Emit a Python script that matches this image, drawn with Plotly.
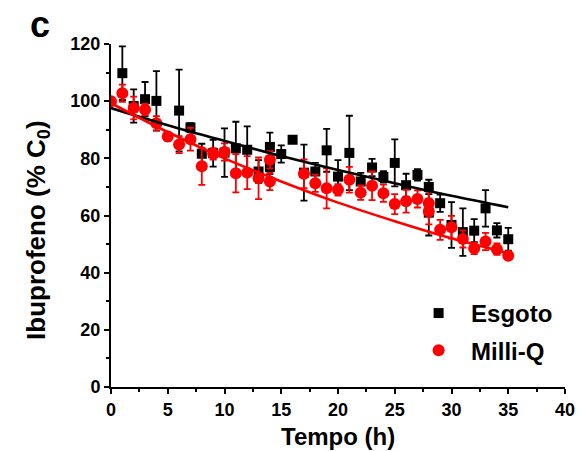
import plotly.graph_objects as go

# Esgoto (wastewater) series: time (h), % of initial concentration, std. dev.
esgoto_t = [1, 2, 3, 4, 6, 7, 8, 9, 10, 11, 12, 13, 14, 14, 15, 16, 17, 18, 19, 20,
            21, 22, 23, 24, 25, 26, 27, 28, 28, 29, 30, 31, 32, 33, 34, 35]
esgoto = [109.8, 98.3, 100.7, 100.1, 96.7, 90.8, 81.6, 81.8, 82.0, 83.5, 83.0, 75.4,
          84.0, 77.0, 81.5, 86.5, 75.0, 75.4, 82.8, 73.6, 81.9, 71.9, 76.8, 73.5,
          78.4, 70.6, 74.2, 70.0, 61.0, 64.3, 56.7, 54.2, 54.7, 62.5, 54.8, 51.7]
esgoto_err = [9.4, 5.8, 6.0, 10.4, 14.3, 1.5, 3.5, 4.7, 8.5, 9.3, 8.2, 4.0,
              5.0, 2.5, 3.0, 0.0, 9.8, 3.0, 7.5, 5.8, 13.0, 3.0, 3.0, 2.0,
              8.2, 4.0, 2.0, 2.5, 8.0, 3.0, 8.0, 8.3, 4.0, 6.4, 2.5, 4.0]

# Milli-Q water series
milliq_t = [0, 1, 2, 3, 4, 5, 6, 7, 8, 9, 10, 11, 12, 13, 14, 14, 17, 18, 19, 20,
            21, 22, 23, 24, 25, 26, 27, 28, 28, 29, 30, 31, 32, 33, 34, 35]
milliq = [100.0, 102.8, 97.6, 97.0, 92.3, 87.6, 84.8, 86.7, 77.2, 81.6, 82.2, 74.8,
          75.0, 73.0, 79.5, 71.9, 74.6, 71.3, 69.5, 69.0, 72.5, 68.0, 70.4, 67.8,
          64.0, 65.0, 65.8, 64.3, 61.4, 55.0, 55.9, 51.8, 48.5, 50.9, 48.2, 45.9]
milliq_err = [0.0, 3.0, 4.0, 2.0, 2.5, 1.5, 3.0, 4.0, 6.5, 2.0, 3.0, 6.7,
              5.8, 7.3, 3.0, 3.0, 5.0, 3.0, 7.0, 2.0, 4.5, 2.5, 5.0, 3.0,
              3.5, 4.0, 3.0, 4.0, 4.5, 3.5, 4.0, 3.0, 2.0, 3.0, 2.0, 1.0]

# Decay fit curves
fit_t = [0, 5, 10, 15, 20, 25, 30, 35]
esgoto_fit = [97.6, 91.6, 86.1, 80.8, 75.9, 71.3, 66.9, 62.9]
milliq_fit = [99.3, 89.2, 80.0, 71.9, 64.5, 58.0, 52.0, 46.8]

FONT = "Arial, Liberation Sans, sans-serif"
RED = "#ff0000"

fig = go.Figure()

fig.add_trace(go.Scatter(
    x=esgoto_t, y=esgoto, mode="markers", name="Esgoto", legendgroup="a",
    marker=dict(symbol="square", size=10, color="black"),
    error_y=dict(type="data", array=esgoto_err, color="black", thickness=1.8, width=3.5),
))
fig.add_trace(go.Scatter(
    x=milliq_t, y=milliq, mode="markers", name="Milli-Q", legendgroup="b",
    marker=dict(symbol="circle", size=12, color=RED),
    error_y=dict(type="data", array=milliq_err, color=RED, thickness=1.8, width=3.5),
))
fig.add_trace(go.Scatter(
    x=fit_t, y=esgoto_fit, mode="lines", showlegend=False,
    line=dict(color="black", width=2.6, shape="spline"),
))
fig.add_trace(go.Scatter(
    x=fit_t, y=milliq_fit, mode="lines", showlegend=False,
    line=dict(color=RED, width=2.6, shape="spline"),
))

axis_common = dict(
    showline=True, linewidth=2, linecolor="black", mirror=False,
    showgrid=False, zeroline=False,
    ticks="outside", ticklen=5, tickwidth=2, tickcolor="black",
    tickfont=dict(family=FONT, size=18, color="black", weight="bold"),
)

plot_w = 587 - 111 - 16
plot_h = 451 - 44 - 64

fig.update_layout(
    width=587, height=451,
    margin=dict(l=111, r=16, t=44, b=64),
    paper_bgcolor="white", plot_bgcolor="white",
    xaxis=dict(
        range=[0, 40], tick0=0, dtick=5,
        minor=dict(dtick=2.5, ticks="outside", ticklen=3, tickwidth=1.5, tickcolor="black"),
        **axis_common,
    ),
    yaxis=dict(
        range=[0, 120], tick0=0, dtick=20,
        minor=dict(dtick=10, ticks="outside", ticklen=3, tickwidth=1.5, tickcolor="black"),
        **axis_common,
    ),
    legend=dict(
        x=0.65, y=0.28, xanchor="left", yanchor="top",
        bgcolor="rgba(0,0,0,0)", tracegroupgap=3, itemwidth=55,
        font=dict(family=FONT, size=24, color="black", weight="bold"),
    ),
    annotations=[
        # panel letter
        dict(text="c", x=(39 - 111) / plot_w, y=(387 - 24) / plot_h,
             xref="paper", yref="paper",
             xanchor="center", yanchor="middle", showarrow=False,
             font=dict(family=FONT, size=36, color="black", weight="bold")),
        # axis titles
        dict(text="Tempo (h)", x=0.5, y=(387 - 436) / plot_h,
             xref="paper", yref="paper",
             xanchor="center", yanchor="middle", showarrow=False, borderpad=0,
             font=dict(family=FONT, size=24, color="black", weight="bold")),
        dict(text="Ibuprofeno (% C<sub>0</sub>)", x=(36 - 111) / plot_w,
             y=(387 - 230) / plot_h,
             xref="paper", yref="paper", textangle=-90,
             xanchor="center", yanchor="middle", showarrow=False,
             font=dict(family=FONT, size=26, color="black", weight="bold")),
    ],
)

fig.write_html("out.html")
